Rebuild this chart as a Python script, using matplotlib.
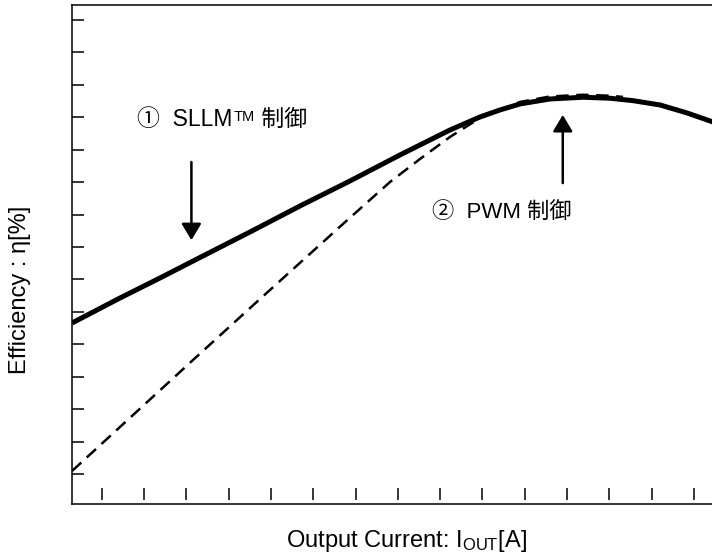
import numpy as np
import matplotlib.pyplot as plt

plt.rcParams['mathtext.fontset'] = 'custom'
plt.rcParams['mathtext.rm'] = 'Liberation Sans'
plt.rcParams['mathtext.it'] = 'Liberation Sans:italic'

FONTS = ['Liberation Sans', 'Noto Sans CJK JP', 'DejaVu Sans']

# 1: SLLM control (solid), 2: PWM control (dashed)
sllm_x = [0.298, 1.433, 2.378, 3.324, 4.506, 5.688, 6.870, 8.052, 9.234, 9.943,
          10.416, 10.889, 11.598, 12.378, 13.017, 13.560, 14.199, 14.837, 15.428, 16.09]
sllm_y = [5.656, 6.427, 7.044, 7.676, 8.462, 9.264, 10.035, 10.837, 11.607, 12.008,
          12.224, 12.409, 12.563, 12.616, 12.585, 12.511, 12.378, 12.132, 11.864, 11.50]

pwm_x = [0.298, 3.158, 4.742, 6.704, 7.816, 8.525, 9.234, 9.943, 10.889, 11.598,
         12.378, 13.017, 13.324]
pwm_y = [1.093, 4.515, 6.396, 8.709, 10.004, 10.713, 11.392, 11.977, 12.471, 12.640,
         12.693, 12.662, 12.625]

x_ticks = np.arange(1, 16)
y_ticks = np.arange(1, 16)

fig = plt.figure(figsize=(7.12, 5.55), dpi=100)
ax = fig.add_axes([71.7 / 712, 51 / 555, (740 - 71.7) / 712, 499 / 555])

ax.plot(pwm_x, pwm_y, color='black', lw=1.8, dashes=(5, 3))
ax.plot(sllm_x, sllm_y, color='black', lw=3.6, solid_capstyle='butt',
        solid_joinstyle='round')

ax.set_xlim(0.29, 16.09)
ax.set_ylim(0.075, 15.46)

ax.set_yticks(y_ticks)
ax.set_yticklabels([])
ax.tick_params(axis='y', direction='in', length=8.6, width=1.1)
ax.set_xticks([])
# bottom ticks float just above the axis line
ax.plot(x_ticks, [0.02] * len(x_ticks), '|', color='black', ms=8.6, mew=1.1,
        transform=ax.get_xaxis_transform(), clip_on=False)

for s in ax.spines.values():
    s.set_linewidth(1.1)

# arrows
hs = '-|>,head_length=0.5,head_width=0.3'
ax.annotate('', xy=(3.12, 8.21), xytext=(3.12, 10.62),
            arrowprops=dict(arrowstyle=hs, lw=1.8, color='black', mutation_scale=20,
                            shrinkA=0, shrinkB=0))
ax.annotate('', xy=(11.90, 12.07), xytext=(11.90, 9.97),
            arrowprops=dict(arrowstyle=hs, lw=1.8, color='black', mutation_scale=20,
                            shrinkA=0, shrinkB=0))

# labels for the two curves
t1 = ax.text(1.84, 11.92, '①  SLLM', fontsize=16.5, family=FONTS, ha='left', va='center')
t2 = ax.annotate('TM', xy=(1, 1), xycoords=t1, fontsize=10.5, family=FONTS,
                 ha='left', va='top', xytext=(0.5, -1.5), textcoords='offset points')
ax.annotate(' 制御', xy=(1, 0), xycoords=(t2, t1), fontsize=16.5, family=FONTS,
            ha='left', va='bottom')
ax.text(8.81, 9.05, '②  PWM 制御', fontsize=16, family=FONTS, ha='left', va='center')

fig.text(406 / 712, 1 - 541 / 555, 'Output Current: I$_{\\mathrm{OUT}}$[A]', fontsize=17,
         family='Liberation Sans', ha='center', va='center')
fig.text(20 / 712, 1 - 290 / 555, 'Efficiency : η[%]', fontsize=17,
         family='Liberation Sans', ha='center', va='center', rotation=90)

fig.savefig('out.png', dpi=100)
